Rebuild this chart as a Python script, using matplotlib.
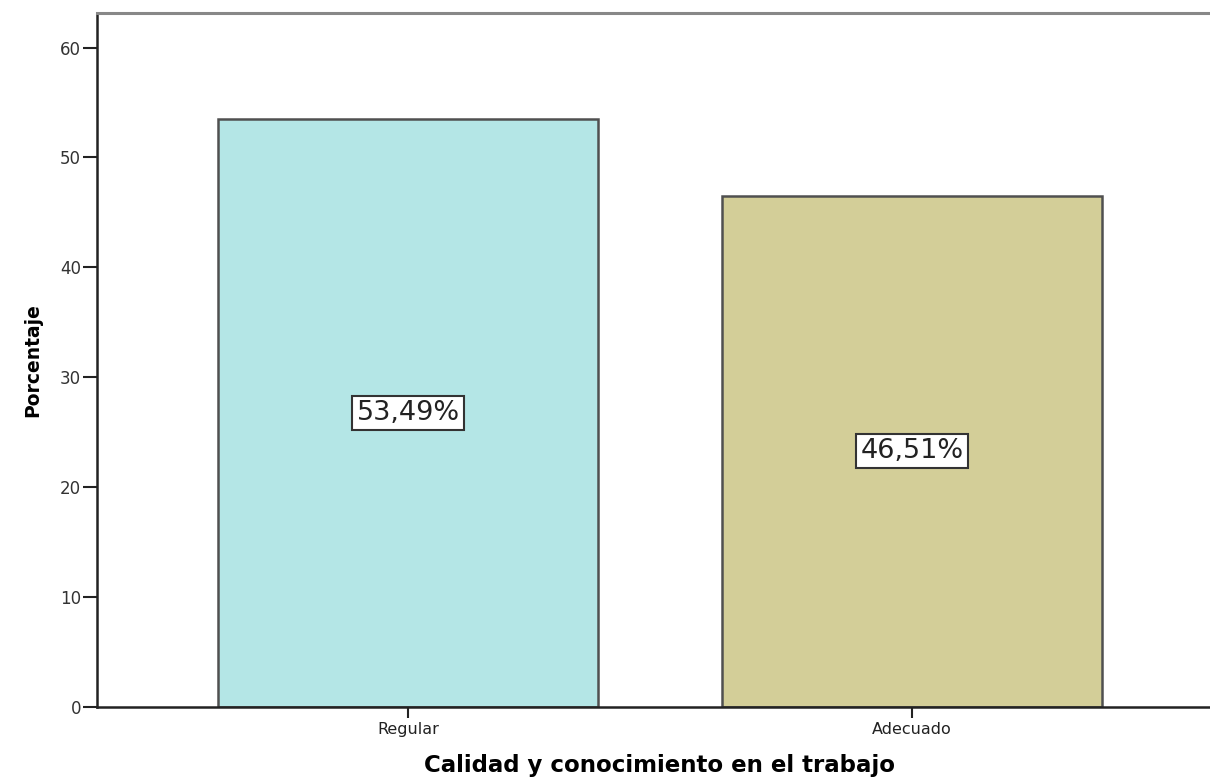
import matplotlib.pyplot as plt

categories = ["Regular", "Adecuado"]
percentages = [53.49, 46.51]
bar_colors = ["#b4e6e6", "#d3ce98"]
yticks = [0, 10, 20, 30, 40, 50, 60]

fig = plt.figure(figsize=(12.1, 7.78), dpi=100)
ax = fig.add_axes([0.0802, 0.0913, 0.9305, 0.8920])

x = range(len(categories))
bars = ax.bar(x, percentages, width=0.754, color=bar_colors,
              edgecolor="#505050", linewidth=1.8, zorder=2)

# value labels in the middle of each bar
for rect, val in zip(bars, percentages):
    label = f"{val:.2f}".replace(".", ",") + "%"
    ax.text(rect.get_x() + rect.get_width() / 2, val / 2, label,
            ha="center", va="center", fontsize=19.5, color="#222222",
            bbox=dict(boxstyle="square,pad=0.15", facecolor="white",
                      edgecolor="#333333", linewidth=1.5), zorder=3)

ax.set_xlim(-0.617, 1.617)
ax.set_ylim(0, 63.14)
ax.set_xticks(list(x))
ax.set_xticklabels(categories, fontsize=11.5, color="#222222")
ax.set_yticks(yticks)
ax.set_yticklabels([str(t) for t in yticks], fontsize=12, color="#333333")
ax.tick_params(axis="y", length=10, width=1.5, pad=1.5, color="#222222")
ax.tick_params(axis="x", length=8, width=1.5, pad=3, color="#222222")

ax.spines["right"].set_visible(False)
ax.spines["top"].set_color("#888888")
ax.spines["top"].set_linewidth(2.2)
ax.spines["left"].set_color("#222222")
ax.spines["left"].set_linewidth(1.8)
ax.spines["bottom"].set_color("#222222")
ax.spines["bottom"].set_linewidth(1.8)

ax.set_ylabel("Porcentaje", fontsize=13.5, fontweight="bold")
ax.yaxis.set_label_coords(-0.049, 0.5)
ax.set_xlabel("Calidad y conocimiento en el trabajo", fontsize=16.5,
              fontweight="bold")
ax.xaxis.set_label_coords(0.5, -0.068)

fig.savefig("out.png", dpi=100)
